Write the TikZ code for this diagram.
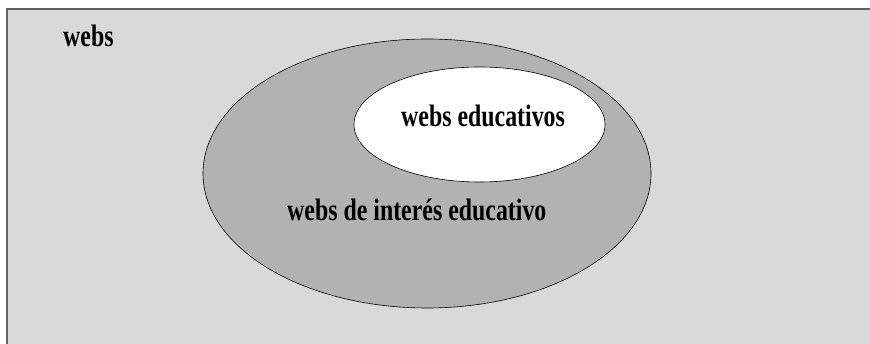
\documentclass[tikz,border=0pt]{standalone}
\usepackage{fontspec}
\setmainfont{Liberation Serif}
\newfontfamily\lblfont[FakeStretch=0.77]{Liberation Serif}
\usetikzlibrary{shapes.geometric}
\tikzset{setbox/.style={ellipse, draw=black, line width=0.6pt, inner sep=0pt},
         lbl/.style={anchor=base west, inner sep=0pt, font=\lblfont\fontsize{31}{36}\selectfont\bfseries}}

\begin{document}
\begin{tikzpicture}[x=1pt, y=-1pt]
    \useasboundingbox (0,0) rectangle (870,344);
    \clip (0,0) rectangle (870,344);
    \draw [draw=black!62, line width=2pt, fill=black!15] (7,9) rectangle (880,360);
    \node (interes) [setbox, fill=black!30, minimum width=448pt, minimum height=269pt] at (427,173.5) {};
    \node (educ) [setbox, fill=white, minimum width=251pt, minimum height=115pt] at (479.5,124.5) {};
    \node (webs_lbl) [lbl] at (63,47) {webs};
    \node (educ_lbl) [lbl] at (401,127) {webs educativos};
    \node (interes_lbl) [lbl] at (287,221) {webs de interés educativo};
\end{tikzpicture}
\end{document}
